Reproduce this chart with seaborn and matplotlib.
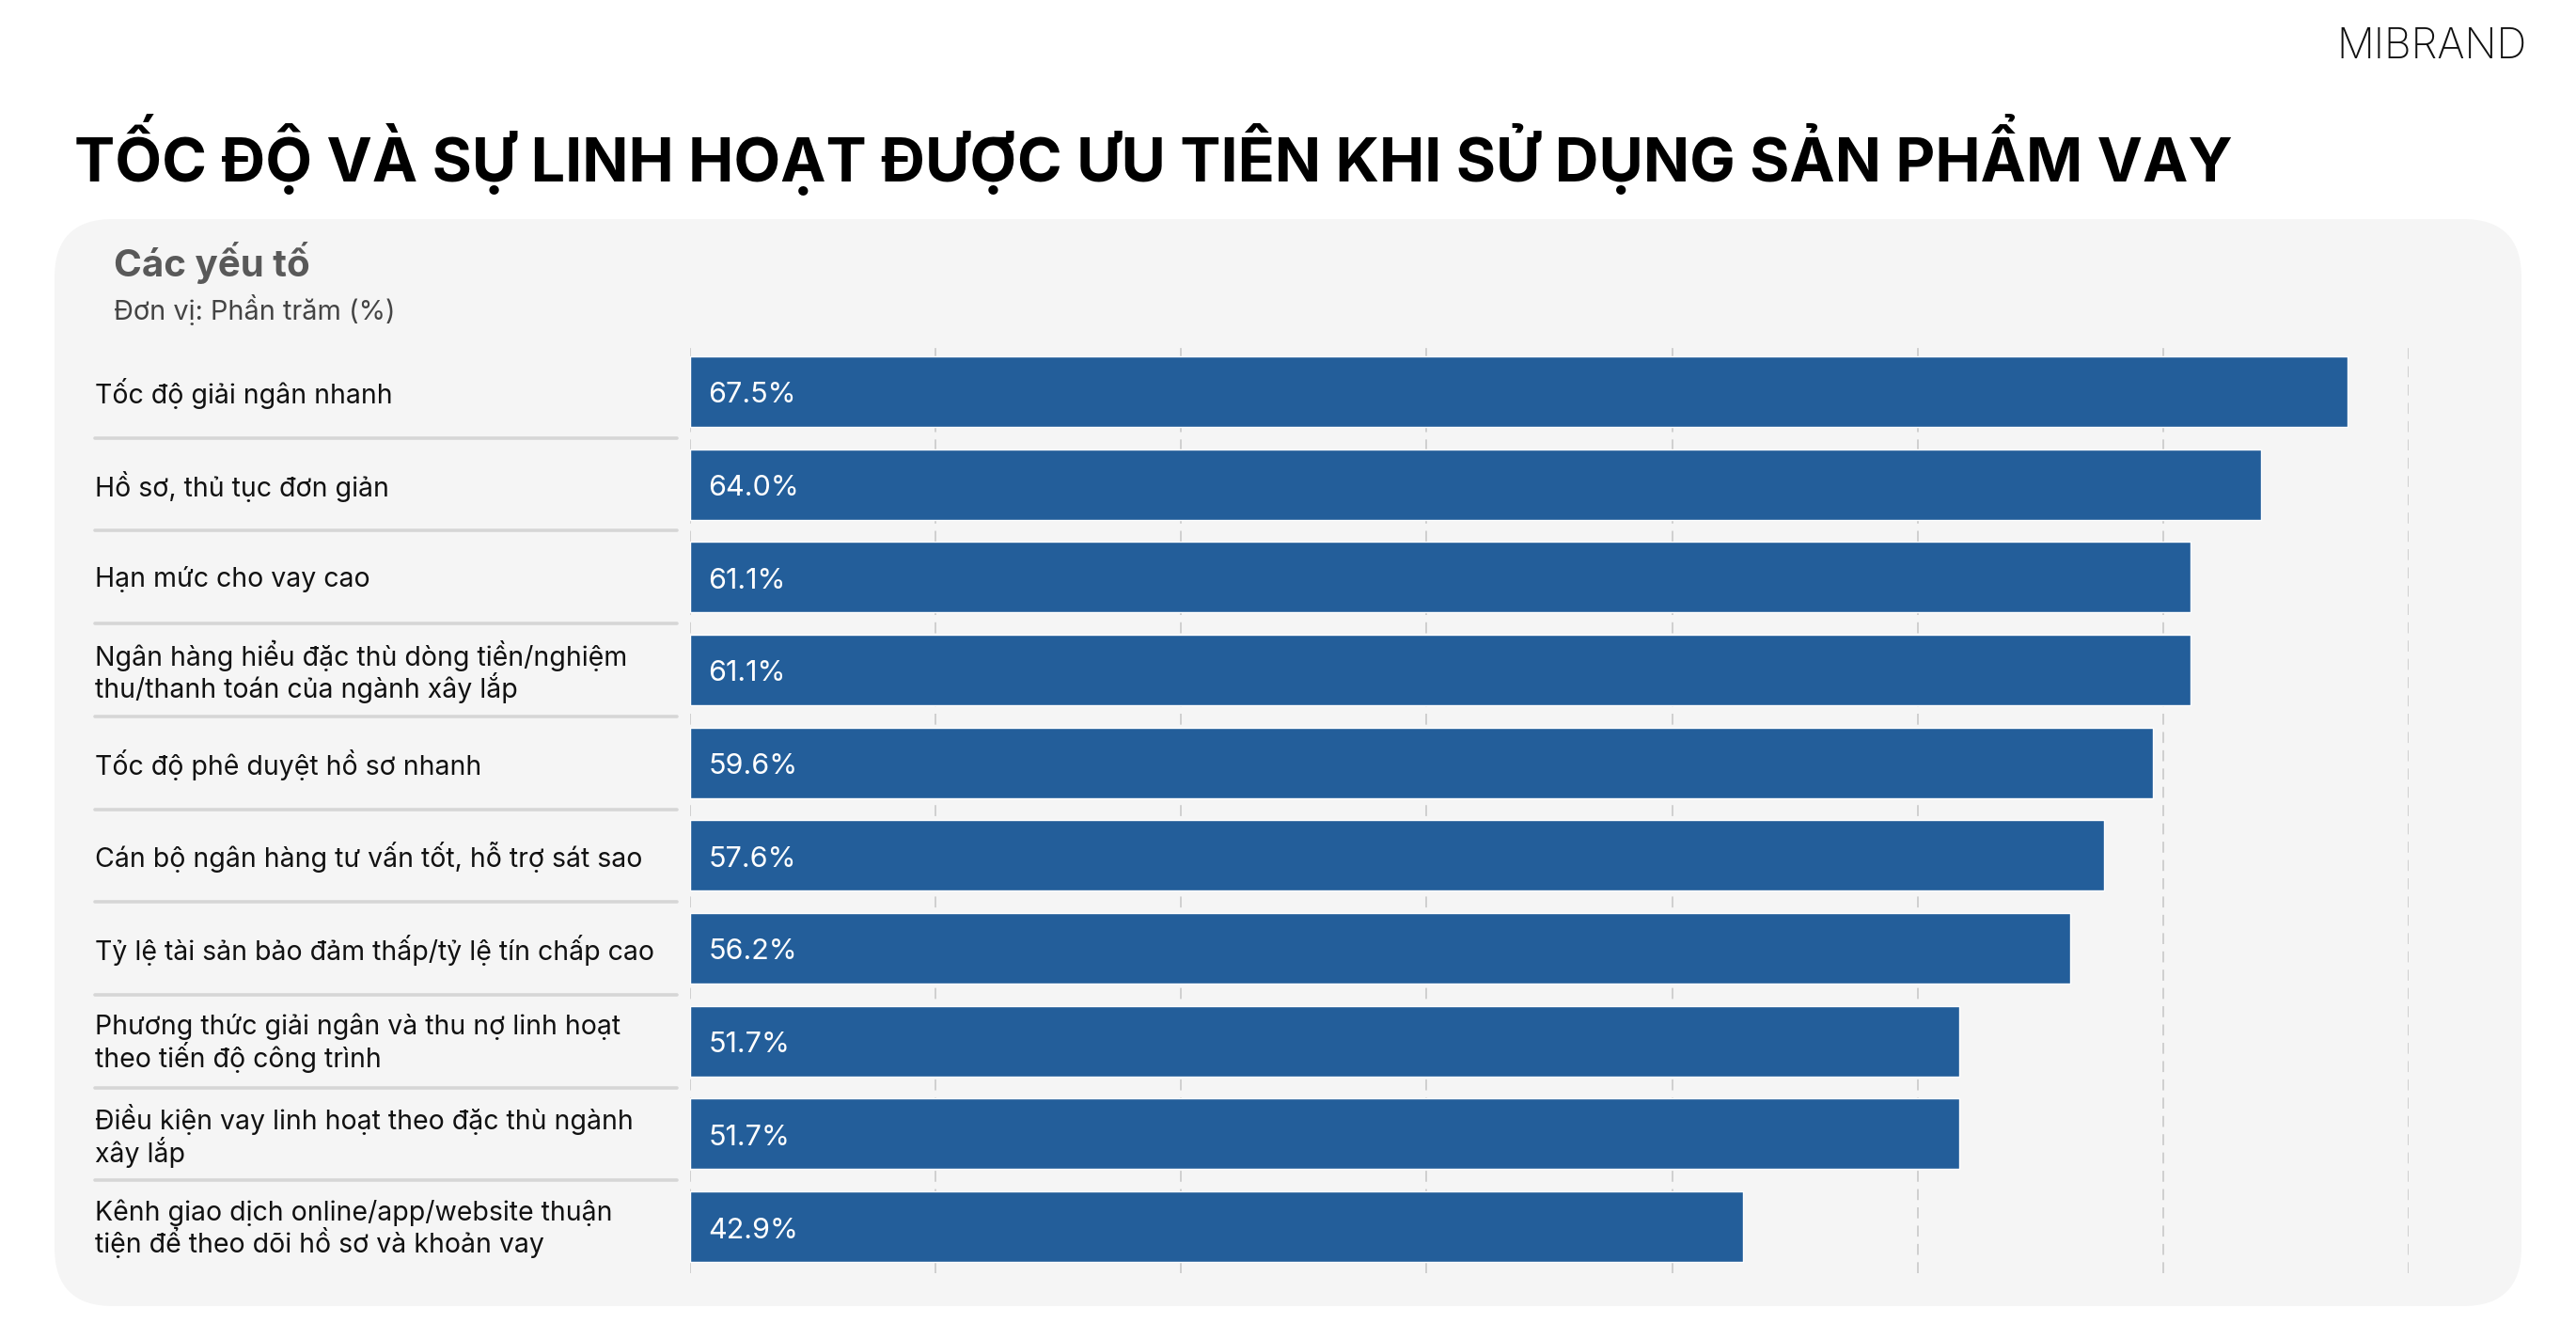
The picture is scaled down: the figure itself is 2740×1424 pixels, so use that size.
import numpy as np
import matplotlib
matplotlib.use("Agg")
import matplotlib.pyplot as plt
import matplotlib.transforms as mtransforms
from matplotlib.patches import FancyBboxPatch
from matplotlib.lines import Line2D
import seaborn as sns

# === data ===
factors = [
    "Tốc độ giải ngân nhanh",
    "Hồ sơ, thủ tục đơn giản",
    "Hạn mức cho vay cao",
    "Ngân hàng hiểu đặc thù dòng tiền/nghiệm\nthu/thanh toán của ngành xây lắp",
    "Tốc độ phê duyệt hồ sơ nhanh",
    "Cán bộ ngân hàng tư vấn tốt, hỗ trợ sát sao",
    "Tỷ lệ tài sản bảo đảm thấp/tỷ lệ tín chấp cao",
    "Phương thức giải ngân và thu nợ linh hoạt\ntheo tiến độ công trình",
    "Điều kiện vay linh hoạt theo đặc thù ngành\nxây lắp",
    "Kênh giao dịch online/app/website thuận\ntiện để theo dõi hồ sơ và khoản vay",
]
shares = [67.5, 64.0, 61.1, 61.1, 59.6, 57.6, 56.2, 51.7, 51.7, 42.9]
grid_ticks = [0, 10, 20, 30, 40, 50, 60, 70]

title = "TỐC ĐỘ VÀ SỰ LINH HOẠT ĐƯỢC ƯU TIÊN KHI SỬ DỤNG SẢN PHẨM VAY"
panel_title = "Các yếu tố"
unit_note = "Đơn vị: Phần trăm (%)"

BAR = "#235e9a"
CARD = "#f5f5f5"

sns.set_style("white")
plt.rcParams["font.family"] = ["Inter", "DejaVu Sans"]

W, H = 2740, 1424
fig = plt.figure(figsize=(W / 100, H / 100), dpi=100)
fig.patch.set_facecolor("white")

# rounded card behind the chart (pixel coords)
card = FancyBboxPatch((58, H - 1389), 2682 - 58, 1389 - 233,
                      boxstyle="round,pad=0,rounding_size=62",
                      transform=None, facecolor=CARD, edgecolor="none", zorder=-5)
fig.patches.append(card)

ax = fig.add_axes([734 / W, 1 - 1354 / H, (2562 - 734) / W, (1354 - 367) / H])
ax.set_facecolor("none")
ax.set_zorder(2)

pos = [str(i) for i in range(len(factors))]
sns.barplot(x=shares, y=pos, orient="h", color=BAR,
            width=0.76, saturation=1, ax=ax, zorder=3)

ax.set_xlim(0, 70)
ax.set_xticks(grid_ticks)
ax.set_xticklabels([])
ax.set_yticks([])
ax.set_xlabel("")
ax.set_ylabel("")
ax.tick_params(length=0)
ax.grid(axis="x", color="#cfcfcf", linestyle=(0, (6, 4)), linewidth=1.4, zorder=0)
ax.set_axisbelow(True)
for s in ax.spines.values():
    s.set_visible(False)

# category labels and separators on the left
mixed = mtransforms.blended_transform_factory(fig.transFigure, ax.transData)
for i, name in enumerate(factors):
    ax.text(101 / W, i + 0.02, name, transform=mixed, ha="left", va="center",
            fontsize=20.5, color="#111111", linespacing=1.05, clip_on=False)
    ax.annotate(f"{shares[i]:.1f}%", xy=(0, i + 0.04), xytext=(14, 0),
                textcoords="offset points", ha="left", va="center",
                fontsize=22, color="white", zorder=4)
for i in range(len(factors) - 1):
    ax.add_artist(Line2D([101 / W, 720 / W], [i + 0.5, i + 0.5], transform=mixed,
                         color="#d6d6d6", linewidth=2.6, clip_on=False))

# headings
fig.text(45 * 1.7474 / W, 1 - 165 / H, title, ha="left", va="center",
         fontsize=46.6, fontweight="bold", color="black")
fig.text(121 / W, 1 - 280 / H, panel_title, ha="left", va="center",
         fontsize=29, fontweight="bold", color="#595959")
fig.text(121 / W, 1 - 329 / H, unit_note, ha="left", va="center",
         fontsize=20.8, color="#444444")
fig.text(2688 / W, 1 - 50 / H, "MIBRAND", ha="right", va="center",
         fontsize=32, fontweight="light", color="#111111")

fig.savefig("out.png", dpi=100)
